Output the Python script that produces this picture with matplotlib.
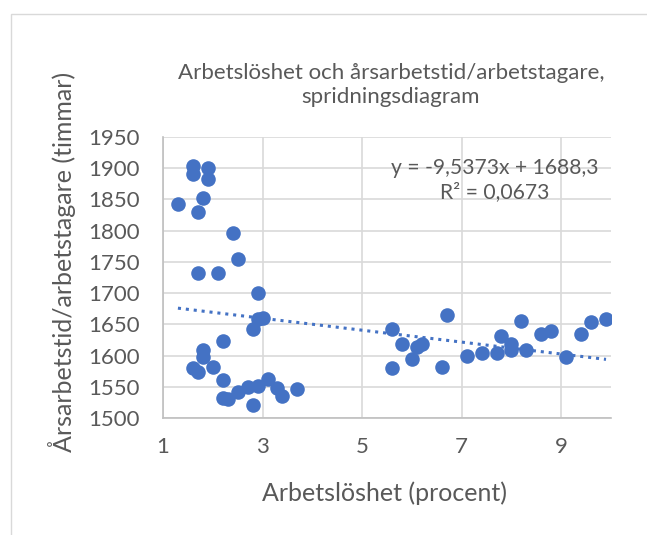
import matplotlib.pyplot as plt
from matplotlib.patches import Rectangle
import numpy as np

plt.rcParams['font.family'] = ['Lato', 'DejaVu Sans']

# Arbetslöshet (procent)
arbetsloshet = [1.3, 1.6, 1.6, 1.9, 1.9, 1.8, 1.7, 2.4, 2.5, 1.7, 2.1, 2.9,
                2.9, 3.0, 2.8, 2.2, 1.8, 1.8, 1.6, 1.7, 2.0, 2.2, 2.2, 2.3,
                2.5, 2.7, 2.9, 3.1, 3.3, 3.4, 3.7, 2.8,
                5.6, 5.8, 5.6, 6.0, 6.1, 6.2, 6.7, 6.6, 7.1, 7.4, 7.7, 7.8,
                8.0, 8.0, 8.3, 8.2, 8.6, 8.8, 9.1, 9.4, 9.6, 9.9]
# Årsarbetstid/arbetstagare (timmar)
arbetstid = [1842, 1903, 1890, 1900, 1883, 1853, 1830, 1797, 1755, 1732, 1732, 1700,
             1658, 1660, 1642, 1623, 1609, 1598, 1580, 1574, 1581, 1561, 1532, 1530,
             1541, 1549, 1551, 1562, 1548, 1536, 1546, 1521,
             1642, 1618, 1580, 1594, 1614, 1618, 1665, 1582, 1599, 1604, 1604, 1631,
             1618, 1609, 1609, 1655, 1634, 1639, 1597, 1634, 1653, 1658]

# linjär trendlinje (från Excel)
lutning = -9.5373
intercept = 1688.3

blue = '#4472C4'
grey = '#595959'
gridc = '#D9D9D9'

fig = plt.figure(figsize=(6.47, 5.35), dpi=100)
fig.patches.append(Rectangle((11 / 647, -0.01), 1.0, 1 - 14 / 535 + 0.01,
                             transform=fig.transFigure, fill=False,
                             edgecolor='#D9D9D9', linewidth=1))
ax = fig.add_axes([163 / 647, 1 - 418 / 535, 448 / 647, 281 / 535])

ax.scatter(arbetsloshet, arbetstid, s=110, color=blue, zorder=3, linewidths=0)

xt = np.array([min(arbetsloshet), max(arbetsloshet)])
ax.plot(xt, lutning * xt + intercept, color=blue, linestyle=(0, (1, 1.6)),
        linewidth=2.2, zorder=2)

ax.set_xlim(1, 10)
ax.set_ylim(1500, 1950)
ax.set_xticks([1, 3, 5, 7, 9])
ax.set_yticks(np.arange(1500, 1951, 50))
ax.grid(True, color=gridc, linewidth=1.2)
ax.set_axisbelow(True)
for side in ['top', 'right']:
    ax.spines[side].set_visible(False)
for side in ['left', 'bottom']:
    ax.spines[side].set_color('#BFBFBF')
    ax.spines[side].set_linewidth(1.2)
ax.tick_params(length=0, labelsize=16, colors=grey)
ax.tick_params(axis='x', pad=14)
ax.tick_params(axis='y', pad=17)

fig.text(385 / 647, 1 - 493 / 535, 'Arbetslöshet (procent)', ha='center',
         va='center', fontsize=18, color=grey)
fig.text(62 / 647, 1 - 262 / 535, 'Årsarbetstid/arbetstagare (timmar)',
         ha='center', va='center', rotation=90, fontsize=18, color=grey)

fig.text(391 / 647, 1 - 85 / 535, 'Arbetslöshet och årsarbetstid/arbetstagare,\nspridningsdiagram',
         ha='center', va='center', fontsize=16, color=grey, linespacing=1.2)

fig.text(495 / 647, 1 - 180 / 535, 'y = -9,5373x + 1688,3\nR² = 0,0673',
         ha='center', va='center', fontsize=15.2, color=grey, linespacing=1.2)

fig.savefig('out.png', dpi=100)
